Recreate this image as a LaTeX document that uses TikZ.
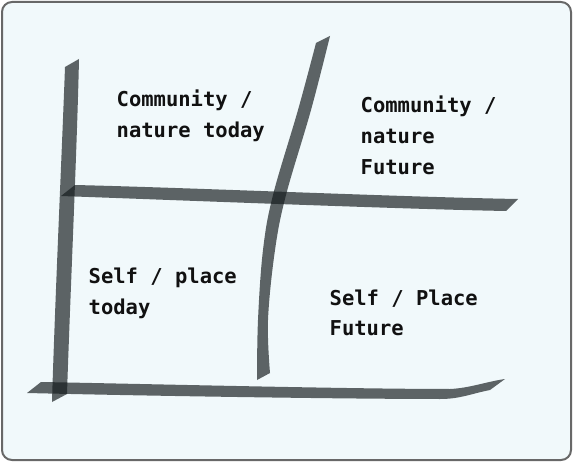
\documentclass[tikz,border=0pt]{standalone}
\usepackage{fontspec}
\setmonofont{DejaVu Sans Mono}
\definecolor{bgc}{HTML}{F1F9FB}
\definecolor{framec}{HTML}{686868}
\definecolor{inkc}{HTML}{131A1C}
\definecolor{txtc}{HTML}{111111}
\tikzset{
  brush/.style={fill=inkc, fill opacity=0.67},
  lbl/.style={anchor=base west, inner sep=0pt, align=left, text=txtc,
    font=\ttfamily\bfseries\fontsize{20.5}{30.8}\selectfont},
}
\begin{document}
\begin{tikzpicture}[x=1pt,y=-1pt]
\useasboundingbox (0,0) rectangle (573,462);
\draw[framec, line width=2pt, fill=bgc, rounded corners=10pt] (2,2) rectangle (571,460);
% left vertical stroke
\fill[brush] (65,67) -- (79,59) .. controls (77,150) and (70,300) .. (67,394)
  -- (52,402) .. controls (55,300) and (62,150) .. (65,67) -- cycle;
% top horizontal stroke
\fill[brush] (61,196) -- (75,185) .. controls (200,188) and (400,197) .. (518,199)
  -- (506,211) .. controls (400,209) and (200,201) .. (61,196) -- cycle;
% curved right vertical stroke
\fill[brush] plot[smooth, tension=0.6] coordinates {(316,43) (298,110) (273,195) (263,250) (258,320) (257,380)}
  -- plot[smooth, tension=0.6] coordinates {(270,373) (268,320) (275,250) (286,195) (311,110) (330,36)}
  -- cycle;
% bottom horizontal stroke
\fill[brush] (27,393) -- (41,382) .. controls (150,384) and (350,389) .. (450,389)
  .. controls (470,388) and (485,382) .. (505,379)
  -- (490,390) .. controls (470,394) and (460,399) .. (440,399)
  .. controls (350,399) and (150,396) .. (27,393) -- cycle;
% labels (base anchor = baseline of the last line)
\node[lbl] (cnt) at (116.5,137.5) {Community /\\nature today};
\node[lbl] (cnf) at (360.5,174.6) {Community /\\nature\\Future};
\node[lbl] (spt) at (88.5,314.8) {Self / place\\today};
\node[lbl] (spf) at (329.5,335.8) {Self / Place\\Future};
\end{tikzpicture}
\end{document}
